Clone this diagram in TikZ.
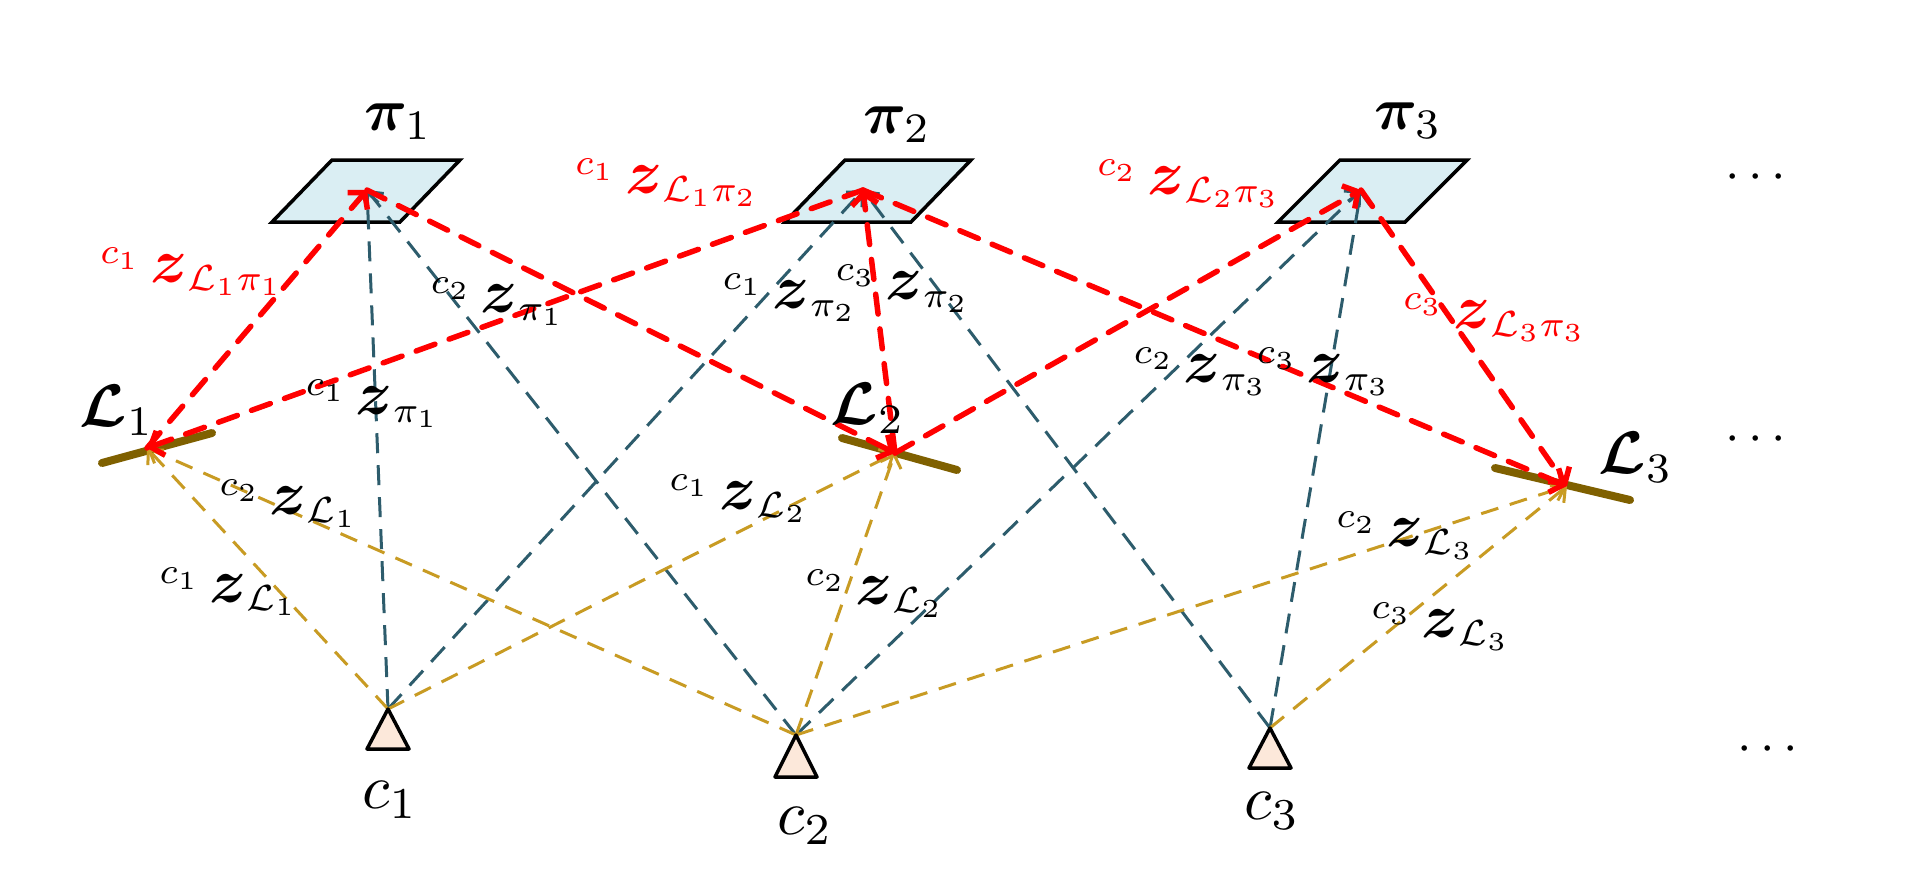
\documentclass[tikz,border=0pt]{standalone}
\usepackage{amsmath,bm}
\usetikzlibrary{arrows.meta}
\definecolor{tealc}{RGB}{45,92,108}
\definecolor{goldc}{RGB}{200,155,35}
\definecolor{barc}{RGB}{127,96,0}
\definecolor{planec}{RGB}{218,238,243}
\definecolor{camc}{RGB}{252,232,218}
\newcommand{\obsz}[2]{${}^{#1}\,\mbox{\large$\bm{z}$}_{#2}$}
\begin{document}
\begin{tikzpicture}[x=1pt,y=-1pt,
  tealline/.style={draw=tealc, line width=3pt, dash pattern=on 20pt off 12pt,
    -{Straight Barb[length=11pt,width=22pt]}},
  goldline/.style={draw=goldc, line width=3pt, dash pattern=on 18pt off 12pt,
    -{Straight Barb[length=11pt,width=22pt]}},
  redline/.style={draw=red, line width=5.5pt, line cap=round, dash pattern=on 20pt off 15pt,
    -{Straight Barb[length=11pt,width=26pt]}},
  plane/.style={draw=black, line width=3.5pt, fill=planec, line join=miter},
  cam/.style={draw=black, line width=3.5pt, fill=camc, line join=round},
  linebar/.style={draw=barc, line width=8pt, line cap=round},
  big/.style={inner sep=0pt, scale=6},
  camlbl/.style={inner sep=0pt, scale=6.3},
  obs/.style={inner sep=0pt, scale=5.2},
  robs/.style={obs, text=red},
  dots/.style={inner sep=0pt, scale=5.2}]
\useasboundingbox (0,0) rectangle (1927,895);
\fill[white] (0,0) rectangle (1927,895);

% planes
\draw[plane] (272,222) -- (332,160) -- (460,160) -- (400,222) -- cycle;
\draw[plane] (785,222) -- (845,160) -- (971,160) -- (911,222) -- cycle;
\draw[plane] (1278,222) -- (1340,160) -- (1467,160) -- (1405,222) -- cycle;

% anchor points
\coordinate (P1) at (367,190);
\coordinate (P2) at (863,190);
\coordinate (P3) at (1361,190);
\coordinate (L1) at (147,448);
\coordinate (L2) at (895,453);
\coordinate (L3) at (1567,486);
\coordinate (C1) at (388,709);
\coordinate (C2) at (796,735);
\coordinate (C3) at (1270,728);

% line bars
\draw[linebar] (102,463) -- (212,433);
\draw[linebar] (842,438) -- (957,470);
\draw[linebar] (1495,468) -- (1630,500);

% camera -> plane
\draw[tealline] (C1) -- (P1);
\draw[tealline] (C1) -- (P2);
\draw[tealline] (C2) -- (P1);
\draw[tealline] (C2) -- (P3);
\draw[tealline] (C3) -- (P2);
\draw[tealline] (C3) -- (P3);

% camera -> line
\draw[goldline] (C1) -- (L1);
\draw[goldline] (C2) -- (L1);
\draw[goldline] (C1) -- (L2);
\draw[goldline] (C2) -- (L2);
\draw[goldline] (C2) -- (L3);
\draw[goldline] (C3) -- (L3);

% line-plane
\draw[redline] (L1) -- (P1);
\draw[redline] (P2) -- (L1);
\draw[redline] (P1) -- (L2);
\draw[redline] (L2) -- (P2);
\draw[redline] (L2) -- (P3);
\draw[redline] (P2) -- (L3);
\draw[redline] (P3) -- (L3);

% cameras
\draw[cam] (388,709) -- (409,749) -- (367,749) -- cycle;
\draw[cam] (796,735) -- (817,777) -- (775,777) -- cycle;
\draw[cam] (1270,728) -- (1291,768) -- (1249,768) -- cycle;

% main labels
\node[big] (tp1) at (398,122) {$\bm{\pi}_1$};
\node[big] (tp2) at (897,125) {$\bm{\pi}_2$};
\node[big] (tp3) at (1408,121) {$\bm{\pi}_3$};
\node[big] (tl1) at (117,410) {$\bm{\mathcal{L}}_1$};
\node[big] (tl2) at (868,408) {$\bm{\mathcal{L}}_2$};
\node[big] (tl3) at (1636,457) {$\bm{\mathcal{L}}_3$};
\node[camlbl] (tc1) at (390,800) {$c_1$};
\node[camlbl] (tc2) at (805,826) {$c_2$};
\node[camlbl] (tc3) at (1272,811) {$c_3$};

% red observation labels
\node[robs] (r1) at (192,272) {\obsz{c_1}{\mathcal{L}_1\pi_1}};
\node[robs] (r2) at (667,183) {\obsz{c_1}{\mathcal{L}_1\pi_2}};
\node[robs] (r3) at (1189,184) {\obsz{c_2}{\mathcal{L}_2\pi_3}};
\node[robs] (r4) at (1495,318) {\obsz{c_3}{\mathcal{L}_3\pi_3}};

% black observation labels
\node[obs] (b1) at (373,404) {\obsz{c_1}{\pi_1}};
\node[obs] (b2) at (498,302) {\obsz{c_2}{\pi_1}};
\node[obs] (b3) at (790,298) {\obsz{c_1}{\pi_2}};
\node[obs] (b4) at (903,289) {\obsz{c_3}{\pi_2}};
\node[obs] (b5) at (1201,372) {\obsz{c_2}{\pi_3}};
\node[obs] (b6) at (1324,372) {\obsz{c_3}{\pi_3}};
\node[obs] (b7) at (289,504) {\obsz{c_2}{\mathcal{L}_1}};
\node[obs] (b8) at (229,592) {\obsz{c_1}{\mathcal{L}_1}};
\node[obs] (b9) at (739,499) {\obsz{c_1}{\mathcal{L}_2}};
\node[obs] (b10) at (875,594) {\obsz{c_2}{\mathcal{L}_2}};
\node[obs] (b11) at (1406,536) {\obsz{c_2}{\mathcal{L}_3}};
\node[obs] (b12) at (1441,627) {\obsz{c_3}{\mathcal{L}_3}};

% ellipses
\node[dots] (d1) at (1760,178) {$\cdots$};
\node[dots] (d2) at (1760,440) {$\cdots$};
\node[dots] (d3) at (1772,750) {$\cdots$};
\end{tikzpicture}
\end{document}
